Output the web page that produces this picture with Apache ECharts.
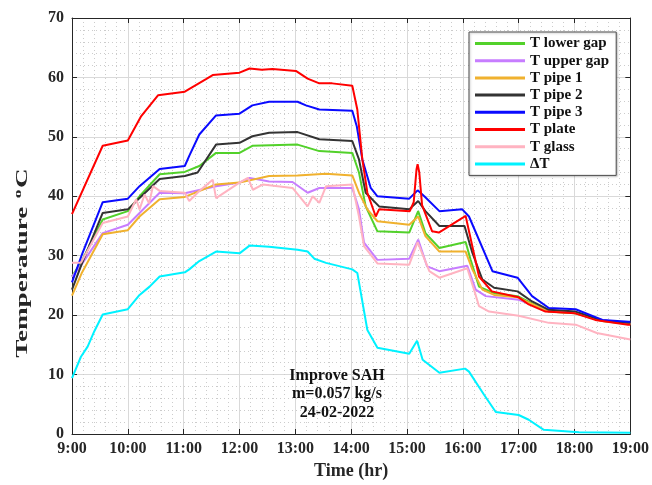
<!DOCTYPE html>
<html>
<head>
<meta charset="utf-8">
<script src="https://cdn.jsdelivr.net/npm/echarts@6/dist/echarts.min.js"></script>
<style>html,body{margin:0;padding:0;background:#fff}#c{width:652px;height:485px}</style>
</head>
<body>
<div id="c"></div>
<script>
// ---- data (time in hours, temperature in °C) ----
const xTickLabels = ['9:00','10:00','11:00','12:00','13:00','14:00','15:00','16:00','17:00','18:00','19:00'];

const lowerGapT = [9.0, 9.17, 9.55, 10.0, 10.21, 10.57, 11.02, 11.28, 11.58, 12.0, 12.23, 13.04, 13.43, 14.02, 14.14, 14.26, 14.47, 15.04, 15.2, 15.33, 15.58, 16.05, 16.14, 16.29, 16.56, 16.98, 17.54, 18.02, 18.5, 18.97, 19.0];
const lowerGapV = [26.5, 29.0, 36.1, 37.5, 40.0, 43.7, 44.1, 45.1, 47.3, 47.3, 48.5, 48.7, 47.6, 47.3, 44.0, 38.3, 34.1, 33.9, 37.5, 33.8, 31.3, 32.3, 29.3, 24.8, 23.7, 23.2, 20.6, 20.3, 19.0, 18.5, 18.5];

const upperGapT = [9.0, 9.17, 9.55, 10.0, 10.21, 10.57, 11.02, 11.58, 12.0, 12.18, 12.53, 12.95, 13.22, 13.43, 14.02, 14.14, 14.23, 14.47, 15.04, 15.2, 15.36, 15.58, 16.08, 16.23, 16.41, 17.0, 17.48, 18.02, 18.5, 19.0];
const upperGapV = [26.5, 28.5, 33.8, 35.2, 37.2, 40.6, 40.5, 41.7, 42.3, 43.1, 42.5, 42.4, 40.6, 41.4, 41.4, 37.8, 32.2, 29.3, 29.5, 32.7, 28.2, 27.4, 28.3, 24.3, 23.2, 22.6, 20.9, 20.5, 19.2, 18.5];

const pipe1T = [9.0, 9.17, 9.55, 10.0, 10.21, 10.57, 11.02, 11.58, 12.0, 12.53, 13.04, 13.55, 14.02, 14.14, 14.29, 14.47, 15.04, 15.2, 15.33, 15.58, 16.05, 16.17, 16.35, 16.56, 16.98, 17.54, 18.02, 18.5, 18.97, 19.0];
const pipe1V = [23.3, 27.0, 33.6, 34.3, 36.6, 39.5, 39.9, 42.0, 42.3, 43.4, 43.5, 43.8, 43.5, 40.6, 37.8, 35.8, 35.2, 36.6, 33.3, 30.7, 30.7, 27.7, 24.3, 23.4, 23.0, 20.6, 20.3, 19.0, 18.6, 18.6];

const pipe2T = [9.0, 9.17, 9.55, 10.0, 10.21, 10.57, 11.02, 11.25, 11.58, 12.0, 12.23, 12.53, 13.04, 13.43, 14.02, 14.14, 14.26, 14.5, 15.04, 15.2, 15.33, 15.58, 16.03, 16.17, 16.35, 16.56, 16.98, 17.24, 17.54, 18.02, 18.5, 18.97, 19.0];
const pipe2V = [24.3, 28.5, 37.2, 37.8, 39.7, 42.9, 43.4, 44.0, 48.7, 49.0, 50.1, 50.7, 50.8, 49.6, 49.3, 46.2, 40.6, 38.3, 37.8, 39.2, 37.5, 35.0, 35.0, 30.5, 26.0, 24.6, 24.0, 22.3, 20.9, 20.6, 19.1, 18.7, 18.7];

const pipe3T = [9.0, 9.17, 9.55, 10.0, 10.21, 10.57, 11.02, 11.1, 11.28, 11.58, 12.0, 12.23, 12.53, 13.04, 13.19, 13.43, 14.02, 14.1, 14.2, 14.35, 14.47, 15.04, 15.19, 15.31, 15.58, 15.99, 16.11, 16.53, 16.98, 17.24, 17.54, 18.02, 18.5, 18.97, 19.0];
const pipe3V = [25.5, 30.0, 39.0, 39.6, 41.7, 44.6, 45.1, 46.8, 50.4, 53.6, 53.9, 55.3, 55.9, 55.9, 55.3, 54.6, 54.4, 51.8, 46.2, 41.4, 40.0, 39.6, 41.0, 40.0, 37.5, 37.8, 36.6, 27.4, 26.3, 23.2, 21.2, 21.0, 19.2, 18.9, 18.9];

const plateT = [9.0, 9.55, 10.0, 10.24, 10.54, 11.02, 11.4, 11.52, 12.0, 12.18, 12.4, 12.59, 13.01, 13.22, 13.43, 13.66, 14.02, 14.11, 14.2, 14.29, 14.44, 14.5, 15.05, 15.12, 15.17, 15.19, 15.22, 15.27, 15.45, 15.57, 16.0, 16.05, 16.17, 16.29, 16.52, 17.0, 17.18, 17.48, 18.01, 18.37, 18.96, 19.0];
const plateV = [37.0, 48.5, 49.4, 53.5, 57.0, 57.6, 59.7, 60.4, 60.8, 61.5, 61.3, 61.4, 61.1, 59.8, 59.0, 59.0, 58.6, 54.6, 46.2, 40.6, 36.6, 37.8, 37.5, 39.0, 44.5, 45.4, 44.0, 38.5, 34.1, 33.9, 36.4, 36.7, 31.6, 26.5, 24.0, 23.0, 21.8, 20.6, 20.3, 19.2, 18.4, 18.4];

const glassT = [9.0, 9.16, 9.55, 10.0, 10.15, 10.21, 10.3, 10.38, 10.45, 10.57, 11.02, 11.1, 11.28, 11.52, 11.58, 12.0, 12.15, 12.24, 12.42, 12.95, 13.22, 13.31, 13.43, 13.55, 14.02, 14.14, 14.23, 14.47, 15.04, 15.19, 15.4, 15.58, 16.08, 16.2, 16.29, 16.47, 17.0, 17.54, 18.02, 18.4, 19.0];
const glassV = [28.8, 28.8, 35.5, 36.6, 39.5, 37.8, 40.3, 38.8, 41.7, 40.9, 40.6, 39.2, 40.9, 42.8, 39.7, 42.3, 43.1, 41.1, 42.0, 41.4, 38.3, 40.0, 38.9, 41.7, 42.0, 36.6, 31.6, 28.7, 28.5, 32.3, 27.4, 26.3, 27.9, 24.3, 21.5, 20.6, 19.9, 18.7, 18.4, 17.0, 15.9];

const deltaT = [9.0, 9.16, 9.28, 9.4, 9.55, 10.0, 10.21, 10.39, 10.57, 11.02, 11.1, 11.28, 11.58, 12.0, 12.18, 12.53, 13.04, 13.22, 13.34, 13.55, 14.02, 14.11, 14.29, 14.47, 15.04, 15.18, 15.28, 15.58, 16.04, 16.11, 16.38, 16.59, 17.0, 17.18, 17.45, 18.08, 19.0];
const deltaV = [9.4, 13.0, 14.7, 17.3, 20.1, 21.0, 23.4, 24.8, 26.5, 27.2, 27.7, 29.1, 30.7, 30.4, 31.7, 31.5, 31.0, 30.7, 29.5, 28.8, 27.7, 27.1, 17.5, 14.5, 13.5, 15.7, 12.5, 10.3, 11.0, 10.5, 6.6, 3.7, 3.2, 2.4, 0.7, 0.3, 0.2];

const seriesNames = ['T lower gap','T upper gap','T pipe 1','T pipe 2','T pipe 3','T plate','T glass','ΔT'];
const seriesColors = ['#52d12a','#c77dff','#f0b12e','#333333','#0a0aff','#ff0000','#ffb3c1','#00f2ff'];
const seriesTimes = [lowerGapT, upperGapT, pipe1T, pipe2T, pipe3T, plateT, glassT, deltaT];
const seriesValues = [lowerGapV, upperGapV, pipe1V, pipe2V, pipe3V, plateV, glassV, deltaV];

const annotationLines = ['Improve SAH','m=0.057 kg/s','24-02-2022'];

// ---- chart ----
const FONT = '"Liberation Serif", "Times New Roman", serif';
const AX = '#262626';
const LINE_ICON = 'path://M0,0L50,0L50,3L0,3Z';
const chart = echarts.init(document.getElementById('c'), null, {renderer: 'canvas'});

const series = seriesNames.map((name, i) => ({
  name: name,
  type: 'line',
  symbol: 'none',
  xAxisIndex: 0,
  yAxisIndex: 0,
  lineStyle: {width: 2, color: seriesColors[i]},
  itemStyle: {color: seriesColors[i]},
  data: seriesTimes[i].map((t, k) => [t, seriesValues[i][k]]),
  z: 3 + i
}));

const axisBase = {
  type: 'value',
  axisLine: {show: true, onZero: false, lineStyle: {color: AX, width: 1}},
  axisTick: {show: true, inside: true, length: 5, lineStyle: {color: AX}}
};

chart.setOption({
  backgroundColor: '#fff',
  animation: false,
  grid: {left: 72, right: 20, top: 18, bottom: 50},
  xAxis: [
    Object.assign({}, axisBase, {
      position: 'bottom', min: 9, max: 19, interval: 1,
      axisLabel: {margin: 7, color: AX, fontFamily: FONT, fontWeight: 'bold', fontSize: 16,
        formatter: v => xTickLabels[Math.round(v - 9)]},
      splitLine: {show: true, lineStyle: {color: '#d9d9d9', width: 1}},
      minorTick: {show: false, splitNumber: 5},
      minorSplitLine: {show: true, lineStyle: {color: '#cccccc', type: [1, 3], width: 1}},
      name: 'Time (hr)', nameLocation: 'middle', nameGap: 28,
      nameTextStyle: {color: AX, fontFamily: FONT, fontWeight: 'bold', fontSize: 18}
    }),
    Object.assign({}, axisBase, {
      position: 'top', min: 9, max: 19, interval: 1,
      axisLabel: {show: false}, splitLine: {show: false}
    })
  ],
  yAxis: [
    Object.assign({}, axisBase, {
      position: 'left', min: 0, max: 70, interval: 10,
      axisLabel: {margin: 8, color: AX, fontFamily: FONT, fontWeight: 'bold', fontSize: 16},
      splitLine: {show: true, lineStyle: {color: '#d9d9d9', width: 1}},
      minorTick: {show: false, splitNumber: 5},
      minorSplitLine: {show: true, lineStyle: {color: '#cccccc', type: [1, 3], width: 1}}
    }),
    Object.assign({}, axisBase, {
      position: 'right', min: 0, max: 70, interval: 10,
      axisLabel: {show: false}, splitLine: {show: false}
    })
  ],
  legend: {
    orient: 'vertical',
    left: 469, top: 32,
    padding: [4, 7, 4, 6],
    itemWidth: 50, itemHeight: 14, itemGap: 2.2,
    icon: LINE_ICON,
    backgroundColor: '#fff',
    borderColor: '#4d4d4d', borderWidth: 1,
    shadowColor: 'rgba(0,0,0,0.25)', shadowBlur: 2, shadowOffsetX: 1, shadowOffsetY: 1,
    textStyle: {color: '#111', fontFamily: FONT, fontWeight: 'bold', fontSize: 15},
    data: seriesNames.map(n => ({name: n, icon: LINE_ICON})),
    selectedMode: false
  },
  graphic: [
    {
      type: 'text', x: 23, y: 263, rotation: Math.PI / 2, scaleX: 1.6, z: 10,
      style: {
        text: '{a|Temperature }{s|o}{a|C}',
        align: 'center', verticalAlign: 'middle',
        fill: AX,
        rich: {
          a: {fontFamily: FONT, fontWeight: 'bold', fontSize: 17, fill: AX},
          s: {fontFamily: FONT, fontWeight: 'bold', fontSize: 11, fill: AX, padding: [0, 1, 9, 1]}
        }
      }
    },
    {
      type: 'text', x: 337, y: 394, z: 10,
      style: {
        text: annotationLines.join('\n'),
        align: 'center', verticalAlign: 'middle',
        lineHeight: 18.5,
        fill: '#111',
        font: 'bold 16px ' + FONT
      }
    }
  ],
  series: series
});
</script>
</body>
</html>
